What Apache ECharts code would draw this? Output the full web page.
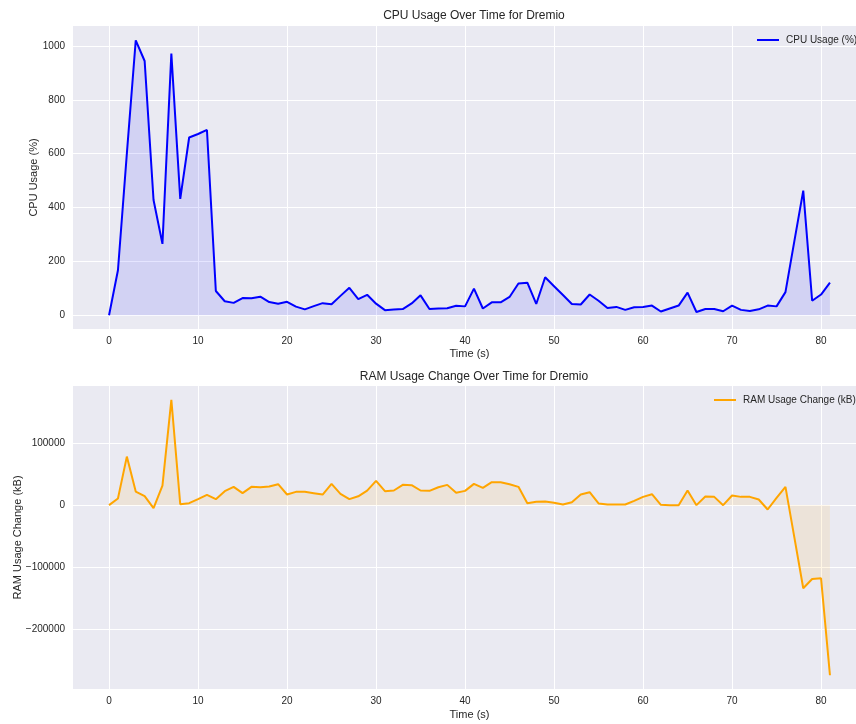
<!DOCTYPE html>
<html>
<head>
<meta charset="utf-8">
<script src="https://cdn.jsdelivr.net/npm/echarts@6/dist/echarts.min.js"></script>
<style>
  html, body { margin: 0; padding: 0; background: #fff; }
  #chart { width: 856px; height: 724px; }
</style>
</head>
<body>
<div id="chart"></div>
<script>
// ==================== data ====================
const timeSec = [
    0, 1, 2, 3, 4, 5, 6, 7, 8, 9, 10, 11, 12, 13, 14, 15, 16, 17, 18, 19,
    20, 21, 22, 23, 24, 25, 26, 27, 28, 29, 30, 31, 32, 33, 34, 35, 36, 37, 38, 39,
    40, 41, 42, 43, 44, 45, 46, 47, 48, 49, 50, 51, 52, 53, 54, 55, 56, 57, 58, 59,
    60, 61, 62, 63, 64, 65, 66, 67, 68, 69, 70, 71, 72, 73, 74, 75, 76, 77, 78, 79,
    80, 81
];

const cpuUsage = [
    0, 167, 600, 1021, 944, 428, 265, 972, 432, 660, 673, 688, 90, 52, 46, 64, 63, 69, 49, 43,
    50, 32, 22, 34, 45, 41, 72, 102, 60, 76, 43, 19, 21, 23, 44, 74, 23, 25, 26, 35,
    33, 99, 25, 48, 48, 68, 118, 121, 42, 141, 108, 75, 42, 40, 77, 54, 27, 31, 20, 30,
    31, 36, 14, 25, 36, 84, 12, 23, 23, 15, 36, 20, 16, 22, 36, 33, 86, 275, 463, 54,
    77, 121
];

const ramChange = [
    0, 10750, 78500, 22000, 14500, -4800, 31700, 170400, 1600, 3200, 9700, 16700, 9700, 22600, 29600, 19400, 29600, 29000, 30100, 33900,
    17200, 21500, 21500, 19400, 17200, 34400, 18300, 9700, 14300, 23600, 39200, 22600, 23700, 32800, 32300, 23700, 23100, 29000, 32800, 19900,
    23100, 34400, 28000, 37100, 37100, 33900, 29600, 3200, 5400, 5900, 3800, 1100, 4800, 17200, 21000, 2700, 1100, 1100, 1100, 7000,
    13400, 17700, 500, 0, 0, 23700, 0, 14000, 13400, 0, 15600, 13400, 13400, 9100, -7000, 11800, 29600, -52000, -134400, -119300,
    -118300, -275000
];

const xTicks = [0, 10, 20, 30, 40, 50, 60, 70, 80];
const cpuTicks = [0, 200, 400, 600, 800, 1000];
const ramTicks = [-200000, -100000, 0, 100000];

// ==================== chart ====================
const myChart = echarts.init(document.getElementById('chart'), null, { renderer: 'canvas' });

const FONT = "'Liberation Sans', Arial, sans-serif";
const INK = '#262626';

// matplotlib 风格刻度文字：无千分位，负号用 U+2212
const plainNum = v => (v < 0 ? '\u2212' : '') + String(Math.abs(v));

// 生成一组 x/y 轴的公共样式
function valueAxis(gridIndex, min, max, ticks, name, nameGap, isX) {
    return {
        type: 'value', gridIndex: gridIndex, min: min, max: max,
        name: name, nameLocation: 'middle', nameGap: nameGap, nameMoveOverlap: false,
        nameTextStyle: { color: INK, fontSize: 11, fontFamily: FONT },
        axisLine: { show: false },
        axisTick: { show: false, customValues: ticks },
        axisLabel: { customValues: ticks, formatter: plainNum, color: INK, fontSize: 10, fontFamily: FONT, margin: isX ? 7 : 8 },
        splitLine: { show: true, lineStyle: { color: '#ffffff', width: 1 } }
    };
}

const legendText = { color: INK, fontSize: 10, fontFamily: FONT, padding: [0, 0, 0, 2] };

const option = {
    animation: false,
    backgroundColor: '#ffffff',
    title: [
        { text: 'CPU Usage Over Time for Dremio', left: 469, top: 5, textAlign: 'center',
          textStyle: { color: INK, fontSize: 12, fontWeight: 'normal', fontFamily: FONT } },
        { text: 'RAM Usage Change Over Time for Dremio', left: 469, top: 366, textAlign: 'center',
          textStyle: { color: INK, fontSize: 12, fontWeight: 'normal', fontFamily: FONT } }
    ],
    legend: [
        { data: ['CPU Usage (%)'], left: 752, top: 30, icon: 'rect', itemWidth: 22, itemHeight: 2, textStyle: legendText },
        { data: ['RAM Usage Change (kB)'], left: 709, top: 390, icon: 'rect', itemWidth: 22, itemHeight: 2, textStyle: legendText }
    ],
    grid: [
        { left: 73, top: 26, width: 793, height: 303, show: true, backgroundColor: '#eaeaf2', borderWidth: 0, outerBoundsMode: 'none' },
        { left: 73, top: 386, width: 793, height: 303, show: true, backgroundColor: '#eaeaf2', borderWidth: 0, outerBoundsMode: 'none' }
    ],
    xAxis: [
        valueAxis(0, -4.05, 85.05, xTicks, 'Time (s)', 19, true),
        valueAxis(1, -4.05, 85.05, xTicks, 'Time (s)', 20, true)
    ],
    yAxis: [
        valueAxis(0, -51, 1074, cpuTicks, 'CPU Usage (%)', 34, false),
        valueAxis(1, -297270, 192670, ramTicks, 'RAM Usage Change (kB)', 50, false)
    ],
    series: [
        {
            name: 'CPU Usage (%)', type: 'line', xAxisIndex: 0, yAxisIndex: 0,
            data: timeSec.map((t, i) => [t, cpuUsage[i]]),
            symbol: 'none', color: '#0000ff',
            lineStyle: { color: '#0000ff', width: 2 },
            areaStyle: { color: '#0000ff', opacity: 0.1 }
        },
        {
            name: 'RAM Usage Change (kB)', type: 'line', xAxisIndex: 1, yAxisIndex: 1,
            data: timeSec.map((t, i) => [t, ramChange[i]]),
            symbol: 'none', color: '#ffa500',
            lineStyle: { color: '#ffa500', width: 2 },
            areaStyle: { color: '#ffa500', opacity: 0.1 }
        }
    ]
};
myChart.setOption(option);
</script>
</body>
</html>
